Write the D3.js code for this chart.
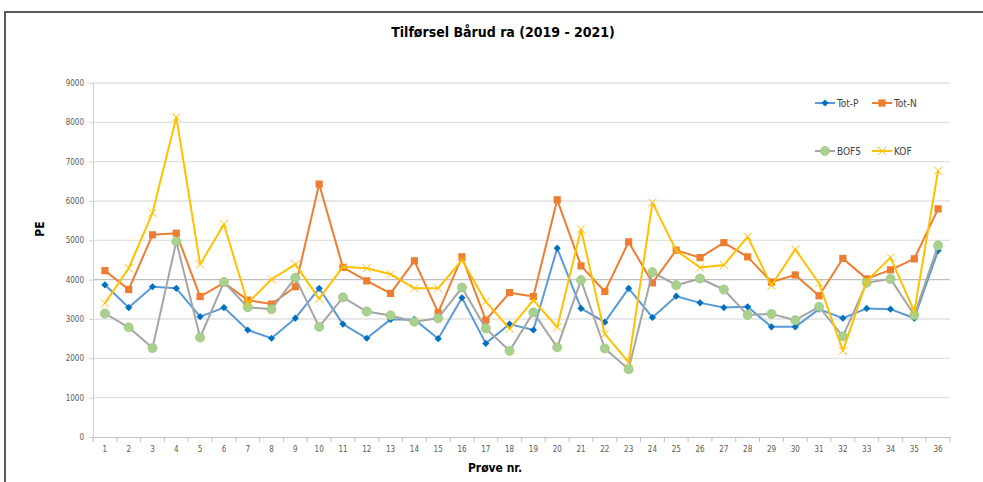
<!DOCTYPE html>
<html>
<head>
<meta charset="utf-8">
<script src="https://cdn.jsdelivr.net/npm/d3@7"></script>
<style>
  body { margin: 0; background: #fff; }
  text { font-family: "DejaVu Sans", sans-serif; font-stretch: condensed; }
</style>
</head>
<body>
<div id="chart"></div>
<script>
// Tilførsel Bårud ra, PE per prøve
const samples = d3.range(1, 37);
const totP = [3870, 3290, 3820, 3780, 3060, 3290, 2720, 2510, 3020, 3780, 2870, 2510, 2990, 2990, 2500, 3540, 2380, 2870,
  2720, 4800, 3270, 2920, 3780, 3040, 3580, 3410, 3290, 3310, 2800, 2800, 3250, 3020, 3270, 3250, 3020, 4740];
const totN = [4230, 3750, 5140, 5180, 3570, 3920, 3480, 3380, 3820, 6430, 4310, 3970, 3650, 4480, 3160, 4580, 2970, 3670,
  3570, 6030, 4350, 3700, 4960, 3920, 4750, 4560, 4940, 4580, 3940, 4120, 3590, 4540, 4020, 4250, 4530, 5800];
const bof5 = [3140, 2790, 2260, 4970, 2530, 3940, 3300, 3250, 4050, 2800, 3550, 3190, 3090, 2930, 3020, 3800, 2760, 2190,
  3170, 2280, 3990, 2250, 1720, 4190, 3860, 4030, 3750, 3100, 3130, 2970, 3310, 2560, 3920, 4020, 3100, 4870];
const kof = [3400, 4290, 5700, 8130, 4390, 5410, 3400, 4010, 4390, 3510, 4330, 4290, 4140, 3780, 3780, 4500, 3440, 2750,
  3480, 2790, 5280, 2620, 1900, 5960, 4740, 4310, 4370, 5090, 3850, 4770, 3910, 2190, 3970, 4560, 3190, 6770];
const yTicks = d3.range(0, 9001, 1000);

const series = [
  {name: "Tot-P", values: totP, line: "#5b9bd5", fill: "#0070c0", marker: "diamond"},
  {name: "Tot-N", values: totN, line: "#ed7d31", fill: "#ed7d31", marker: "square"},
  {name: "BOF5", values: bof5, line: "#a5a5a5", fill: "#a9d18e", marker: "circle"},
  {name: "KOF", values: kof, line: "#ffc000", fill: "#ffc000", marker: "cross"}
];

const W = 983, H = 482;
const svg = d3.select("#chart").append("svg").attr("width", W).attr("height", H);

// outer frame
svg.append("rect").attr("x", 5).attr("y", 12).attr("width", 1000).attr("height", 500)
  .attr("fill", "none").attr("stroke", "#595959").attr("stroke-width", 2);

const x = d3.scaleBand().domain(samples).range([93, 950]);
const y = d3.scaleLinear().domain([0, 9000]).range([437, 83]);

// gridlines
svg.append("g").selectAll("line").data(yTicks.filter(d => d > 0)).join("line")
  .attr("x1", 93).attr("x2", 950).attr("y1", d => y(d)).attr("y2", d => y(d))
  .attr("stroke", d => d === 4000 ? "#bfbfbf" : "#e0e0e0").attr("stroke-width", 1.3);

// y axis
const yAxis = svg.append("g").attr("transform", "translate(93,0)")
  .call(d3.axisLeft(y).tickValues(yTicks).tickFormat(d3.format("d")).tickSize(4).tickPadding(5));
yAxis.select(".domain").attr("stroke", "#d0d0d0");
yAxis.selectAll(".tick line").attr("stroke", "#d0d0d0");
yAxis.selectAll("text").attr("fill", "#595959").style("font-size", "8px")
  .style("font-family", "DejaVu Sans, sans-serif");

// x axis
const xAxis = svg.append("g").attr("transform", "translate(0,437)")
  .call(d3.axisBottom(x).tickSize(0).tickPadding(9));
xAxis.select(".domain").attr("stroke", "#bfbfbf");
xAxis.selectAll("text").attr("fill", "#595959").style("font-size", "8px")
  .style("font-family", "DejaVu Sans, sans-serif");
svg.append("g").selectAll("line").data(samples.concat([37])).join("line")
  .attr("x1", d => d === 37 ? 950 : x(d)).attr("x2", d => d === 37 ? 950 : x(d))
  .attr("y1", 437).attr("y2", 442).attr("stroke", "#bfbfbf");

// lines
const line = d3.line().x((d, i) => x(samples[i]) + x.bandwidth() / 2).y(d => y(d));
function marker(g, type, fill) {
  if (type === "diamond") g.append("path").attr("d", "M0,-3.6L3.6,0L0,3.6L-3.6,0Z").attr("fill", fill);
  else if (type === "square") g.append("rect").attr("x", -3.6).attr("y", -3.6).attr("width", 7.2).attr("height", 7.2).attr("fill", fill);
  else if (type === "circle") g.append("circle").attr("r", 4.6).attr("fill", fill).attr("stroke", "#97c27a").attr("stroke-width", 0.6);
  else g.append("path").attr("d", "M-4,-4L4,4M-4,4L4,-4").attr("stroke", fill).attr("stroke-width", 1).attr("fill", "none");
}
series.forEach(s => {
  svg.append("path").datum(s.values).attr("d", line)
    .attr("fill", "none").attr("stroke", s.line).attr("stroke-width", 2).attr("stroke-linejoin", "round");
  svg.append("g").selectAll("g").data(s.values).join("g")
    .attr("transform", (d, i) => `translate(${x(samples[i]) + x.bandwidth() / 2},${y(d)})`)
    .each(function() { marker(d3.select(this), s.marker, s.fill); });
});

// legend
const legPos = [[815, 103], [872, 103], [815, 151], [872, 151]];
series.forEach((s, i) => {
  const [lx, ly] = legPos[i];
  const g = svg.append("g").attr("transform", `translate(${lx},${ly})`);
  g.append("line").attr("x1", 0).attr("x2", 20).attr("stroke", s.line).attr("stroke-width", 2);
  const m = g.append("g").attr("transform", "translate(10,0)");
  marker(m, s.marker, s.fill);
  g.append("text").attr("x", 22).attr("y", 3.5).attr("fill", "#404040").style("font-size", "10px").text(s.name);
});

// titles
svg.append("text").attr("x", 503).attr("y", 37).attr("text-anchor", "middle")
  .style("font-size", "14px").style("font-weight", "bold").attr("fill", "#000").text("Tilførsel Bårud ra (2019 - 2021)");
svg.append("text").attr("transform", "translate(44,229) rotate(-90)").attr("text-anchor", "middle")
  .style("font-size", "12px").style("font-weight", "bold").attr("fill", "#000").text("PE");
svg.append("text").attr("x", 495).attr("y", 472).attr("text-anchor", "middle")
  .style("font-size", "12px").style("font-weight", "bold").attr("fill", "#000").text("Prøve nr.");
</script>
</body>
</html>
